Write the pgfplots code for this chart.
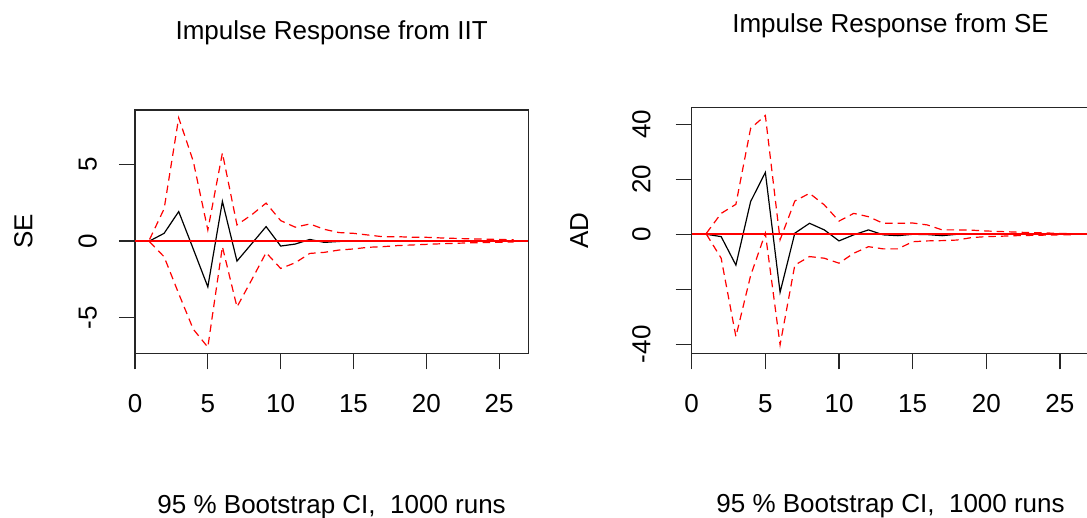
\documentclass[border=0pt]{standalone}
\usepackage{pgfplots}
\pgfplotsset{compat=1.18}
\usepackage{pgfplotstable}
\usepackage{fontspec}
\setmainfont{Liberation Sans}

\pgfplotstableread{
x resp lo up
1 0 -0.05 0.1
2 0.5 -1.03 2.1
3 1.92 -3.43 8.03
4 -0.52 -5.75 5.2
5 -2.99 -6.92 0.72
6 2.58 -0.37 5.74
7 -1.31 -4.3 1.05
8 -0.19 -2.55 1.7
9 0.94 -0.76 2.47
10 -0.33 -1.79 1.33
11 -0.2 -1.42 0.9
12 0.1 -0.81 1.11
13 -0.09 -0.74 0.76
14 -0.03 -0.59 0.55
15 0.02 -0.52 0.5
16 -0.02 -0.41 0.39
17 0.01 -0.37 0.28
18 0.0 -0.30 0.28
19 0.0 -0.26 0.25
20 0.0 -0.22 0.24
21 0.0 -0.18 0.20
22 0.0 -0.15 0.17
23 0.0 -0.12 0.14
24 0.0 -0.10 0.12
25 0.0 -0.08 0.10
26 0.0 -0.07 0.08
}\leftdata

\pgfplotstableread{
x resp lo up
1 0 0 0.4
2 -0.85 -8.7 7.6
3 -11.2 -37.2 10.9
4 11.9 -15 38.5
5 22.5 0.4 43.2
6 -21.1 -40.2 -2.0
7 0.4 -11.2 12.1
8 4.0 -8.1 14.9
9 1.6 -8.7 10.7
10 -2.4 -10.5 4.8
11 -0.2 -6.9 7.6
12 1.6 -4.5 6.4
13 -0.2 -5.3 4.0
14 -0.5 -5.3 4.0
15 0.0 -2.7 4.1
16 -0.1 -2.4 3.4
17 -0.5 -2.3 1.6
18 0.0 -2.1 1.6
19 0.0 -1.2 1.5
20 0.0 -0.85 1.2
21 0.0 -0.7 1.0
22 0.0 -0.5 0.8
23 0.0 -0.4 0.6
24 0.0 -0.3 0.5
25 0.0 -0.2 0.3
26 0.0 -0.15 0.2
}\rightdata

\pgfplotsset{
  rstyle/.style={
    scale only axis,
    anchor=south west,
    xmin=0, xmax=27,
    xtick={0,5,10,15,20,25},
    tick align=outside,
    major tick length=8pt,
    axis line style={black!85, line width=0.6pt},
    every tick/.style={black!85, line width=0.6pt},
    xtick pos=bottom, ytick pos=left,
    /pgf/number format/assume math mode=true,
    xticklabel style={yshift=-9pt},
    ticklabel style={font=\fontsize{13pt}{15pt}\selectfont},
    label style={font=\fontsize{13pt}{15pt}\selectfont},
    title style={font=\fontsize{13pt}{15pt}\selectfont, anchor=base},
    xlabel={95 \% Bootstrap CI,\ \ 1000 runs},
  },
  respline/.style={black, line width=0.6pt},
  ciline/.style={red, line width=0.6pt, dash pattern=on 3.75pt off 2.5pt},
  zeroline/.style={red, line width=0.8pt},
}

\begin{document}
\begin{tikzpicture}
\path[use as bounding box] (0,0) rectangle (543.5pt,259pt);
\clip (0,0) rectangle (543.5pt,259pt);

\begin{axis}[rstyle,
  at={(67.5pt,82.35pt)},
  width=196.65pt, height=121.65pt,
  ymin=-7.32, ymax=8.54,
  ytick={-5,0,5},
  yticklabel style={rotate=90, anchor=south, yshift=7.5pt},
  title={Impulse Response from IIT},
  title style={at={(axis description cs:0.5,1.2421)}},
  xlabel style={at={(axis description cs:0.5,-0.6564)}, anchor=base},
  ylabel={SE},
  ylabel style={at={(axis description cs:-0.284,0.5)}, anchor=center},
]
\addplot[ciline] table[x=x,y=up] {\leftdata};
\addplot[ciline] table[x=x,y=lo] {\leftdata};
\addplot[respline] table[x=x,y=resp] {\leftdata};
\addplot[zeroline] coordinates {(0,0) (27,0)};
\end{axis}

\begin{axis}[rstyle,
  at={(345.85pt,82.35pt)},
  width=198.85pt, height=123pt,
  ymin=-43.27, ymax=46.18,
  ytick={-40,-20,0,20,40},
  yticklabels={-40,,0,20,40},
  yticklabel style={rotate=90, anchor=south, yshift=9pt},
  title={Impulse Response from SE},
  title style={at={(axis description cs:0.5,1.254)}},
  xlabel style={at={(axis description cs:0.5,-0.649)}, anchor=base},
  ylabel={AD},
  ylabel style={at={(axis description cs:-0.2829,0.498)}, anchor=center},
]
\addplot[ciline] table[x=x,y=up] {\rightdata};
\addplot[ciline] table[x=x,y=lo] {\rightdata};
\addplot[respline] table[x=x,y=resp] {\rightdata};
\addplot[zeroline] coordinates {(0,0) (27,0)};
\end{axis}
\end{tikzpicture}
\end{document}
